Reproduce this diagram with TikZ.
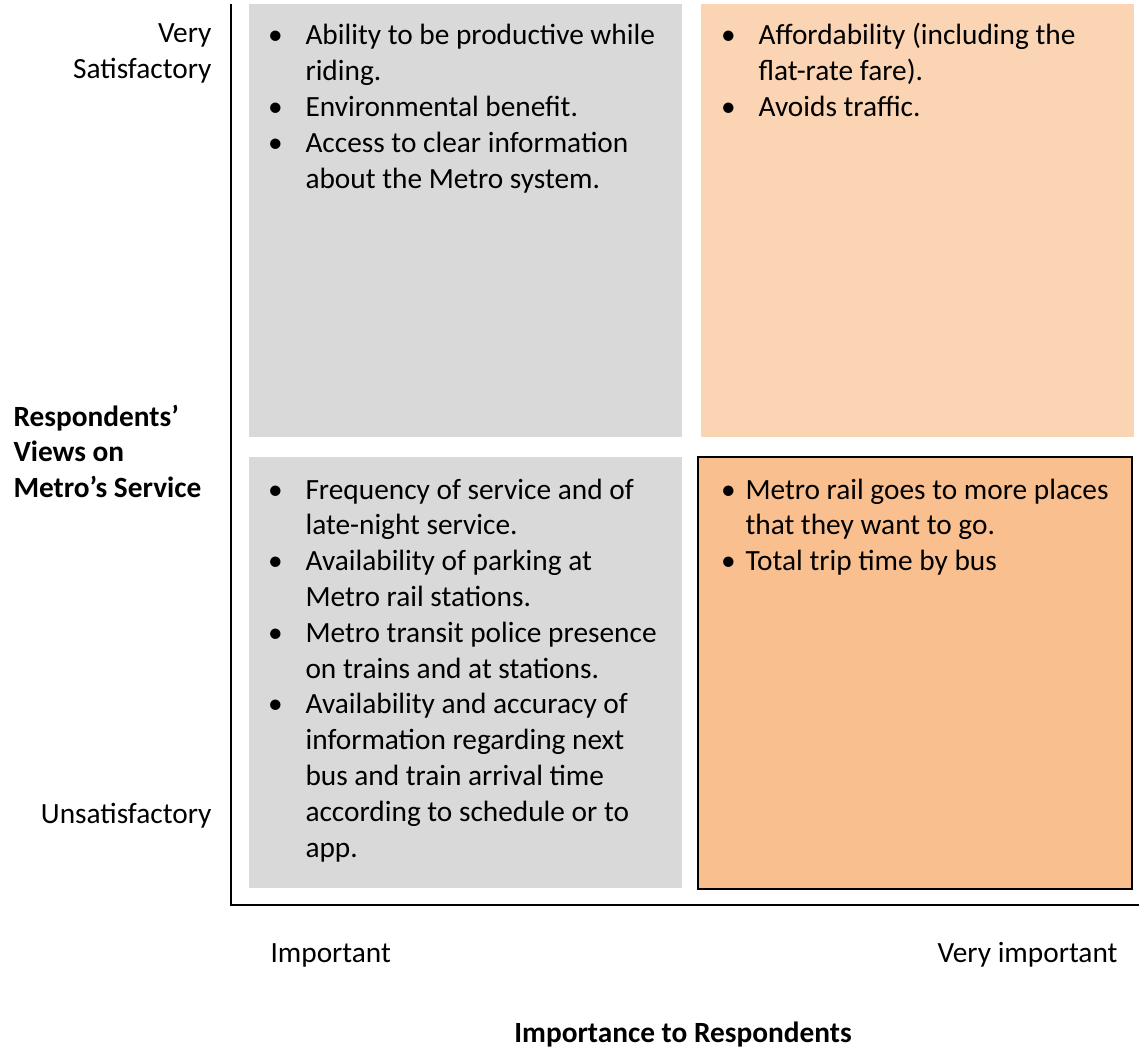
\documentclass[tikz,border=0pt]{standalone}
\usepackage{fontspec}
\setmainfont{Carlito}
\newcommand{\mainsize}{\fontsize{11bp}{13.43bp}\selectfont}
\newcommand{\bul}[1][11.25bp]{\leavevmode\llap{\makebox[0pt]{\textbullet}\hspace{#1}}}
\definecolor{boxgrey}{HTML}{D9D9D9}
\definecolor{paleorange}{HTML}{FBD4B4}
\definecolor{midorange}{HTML}{FABF8F}

\begin{document}
\begin{tikzpicture}[x=0.375bp, y=-0.375bp,
	every node/.style={font=\mainsize, inner sep=0pt},
	cell/.style={anchor=base west, text width=160bp, align=flush left}]
	\useasboundingbox (0,0) rectangle (1139,1051);
	\coordinate (ytop) at (231,4);
	\coordinate (origin) at (231,905);
	\coordinate (xend) at (1139,905);
	\fill[boxgrey] (249,4) rectangle (682,437);
	\fill[paleorange] (701,4) rectangle (1134,437);
	\fill[boxgrey] (249,457) rectangle (682,888);
	\filldraw[fill=midorange, draw=black, line width=0.75bp] (698,457) rectangle (1132,889);
	\draw[line width=0.75bp] (ytop) -- (origin) -- (xend);
	\node[cell] (tl) at (305,45) {\bul Ability to be productive while\\ riding.\\
		\bul Environmental benefit.\\ \bul Access to clear information\\ about the Metro system.};
	\node[cell] (tr) at (758,45) {\bul Affordability (including the\\ flat-rate fare).\\ \bul Avoids traffic.};
	\node[cell] (bl) at (305,499) {\bul Frequency of service and of\\ late-night service.\\
		\bul Availability of parking at\\ Metro rail stations.\\
		\bul Metro transit police presence\\ on trains and at stations.\\
		\bul Availability and accuracy of\\ information regarding next\\ bus and train arrival time\\ according to schedule or to\\ app.};
	\node[cell] (br) at (745,499) {\bul[6.4bp]Metro rail goes to more places\\ that they want to go.\\ \bul[6.4bp]Total trip time by bus};
	\node[anchor=base east, text width=80bp, align=flush right] (vsat) at (212,43) {Very\\ Satisfactory};
	\node[anchor=base east] (unsat) at (212,823) {Unsatisfactory};
	\node[anchor=base west, text width=80bp, align=flush left, font=\mainsize\bfseries] (views) at (13,426) {Respondents’\\ Views on\\ Metro’s Service};
	\node[anchor=base west] (imp) at (270,962) {Important};
	\node[anchor=base east] (vimp) at (1118,962) {Very important};
	\node[anchor=base, font=\mainsize\bfseries] (xlabel) at (683,1042) {Importance to Respondents};
\end{tikzpicture}
\end{document}
